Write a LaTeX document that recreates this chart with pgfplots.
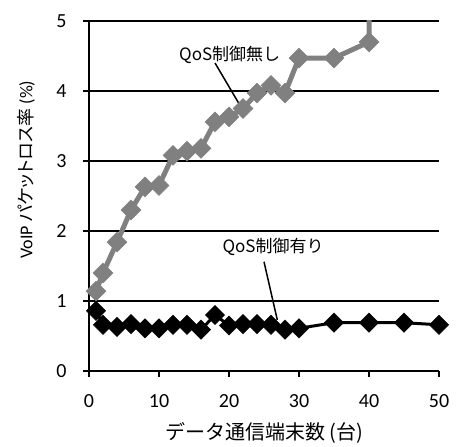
\documentclass[border=0pt]{standalone}
\usepackage{pgfplots}
\pgfplotsset{compat=1.18}
\usepackage{fontspec}
\setmainfont{Carlito}
\newfontfamily\cjk{Noto Sans CJK JP}
\newfontfamily\cjkp[RawFeature=+palt]{Noto Sans CJK JP}
\definecolor{sgray}{RGB}{128,128,128}
\begin{document}
\begin{tikzpicture}
\begin{axis}[
  scale only axis,
  width=350bp, height=350bp,
  xmin=0, xmax=50, ymin=0, ymax=5,
  xtick={0,10,20,30,40,50},
  ytick={0,1,2,3,4,5},
  axis x line*=bottom, axis y line*=left,
  axis line style={line width=1.5bp, black, -},
  ymajorgrids, grid style={line width=1.2bp, black},
  tick style={line width=1.2bp, black},
  major tick length=6bp,
  tick align=outside,
  clip=true,
  /pgf/number format/assume math mode=true,
  ticklabel style={font=\fontsize{20bp}{24bp}\selectfont},
  xticklabel style={yshift=-14bp},
  yticklabel style={xshift=-13bp},
  xlabel={\cjk データ通信端末数 (台)},
  ylabel={VoIP {\cjkp パケットロス率} (\%)},
  label style={font=\fontsize{20bp}{23bp}\selectfont},
  ylabel style={font=\fontsize{18bp}{21bp}\selectfont},
  xlabel style={at={(axis description cs:0.5,0)}, anchor=center, yshift=-62bp},
  ylabel style={at={(axis description cs:0,0.575)}, anchor=center, xshift=0bp, yshift=63bp},
]
\addplot[sgray, line width=5bp, mark=square*, mark size=7bp, mark options={rotate=45, line width=0.5bp}] coordinates {
(1,1.14) (2,1.40) (4,1.84) (6,2.30) (8,2.63) (10,2.65) (12,3.08) (14,3.14) (16,3.18) (18,3.56) (20,3.63) (22,3.75) (24,3.97) (26,4.08) (28,3.97) (30,4.47) (35,4.47) (40,4.70) (40.2,30)
};
\addplot[black, line width=3bp, mark=square*, mark size=6.8bp, mark options={rotate=45, line width=0.5bp}] coordinates {
(1,0.86) (2,0.66) (4,0.63) (6,0.67) (8,0.61) (10,0.61) (12,0.66) (14,0.66) (16,0.59) (18,0.80) (20,0.65) (22,0.67) (24,0.67) (26,0.66) (28,0.59) (30,0.61) (35,0.69) (40,0.69) (45,0.69) (50,0.66)
};
\node[font=\cjk\fontsize{17bp}{20bp}\selectfont] at (axis cs:20.1,4.51) {QoS制御無し};
\draw[line width=1.5bp] (axis cs:18,4.40) -- (axis cs:21.6,3.79);
\node[font=\cjk\fontsize{17bp}{20bp}\selectfont] at (axis cs:26.3,1.77) {QoS制御有り};
\draw[line width=1.5bp] (axis cs:25,1.56) -- (axis cs:26.9,0.73);
\end{axis}
\useasboundingbox (current axis.south west) ++(-89bp,-70bp) rectangle ([shift={(17bp,21bp)}]current axis.north east);
\end{tikzpicture}
\end{document}
